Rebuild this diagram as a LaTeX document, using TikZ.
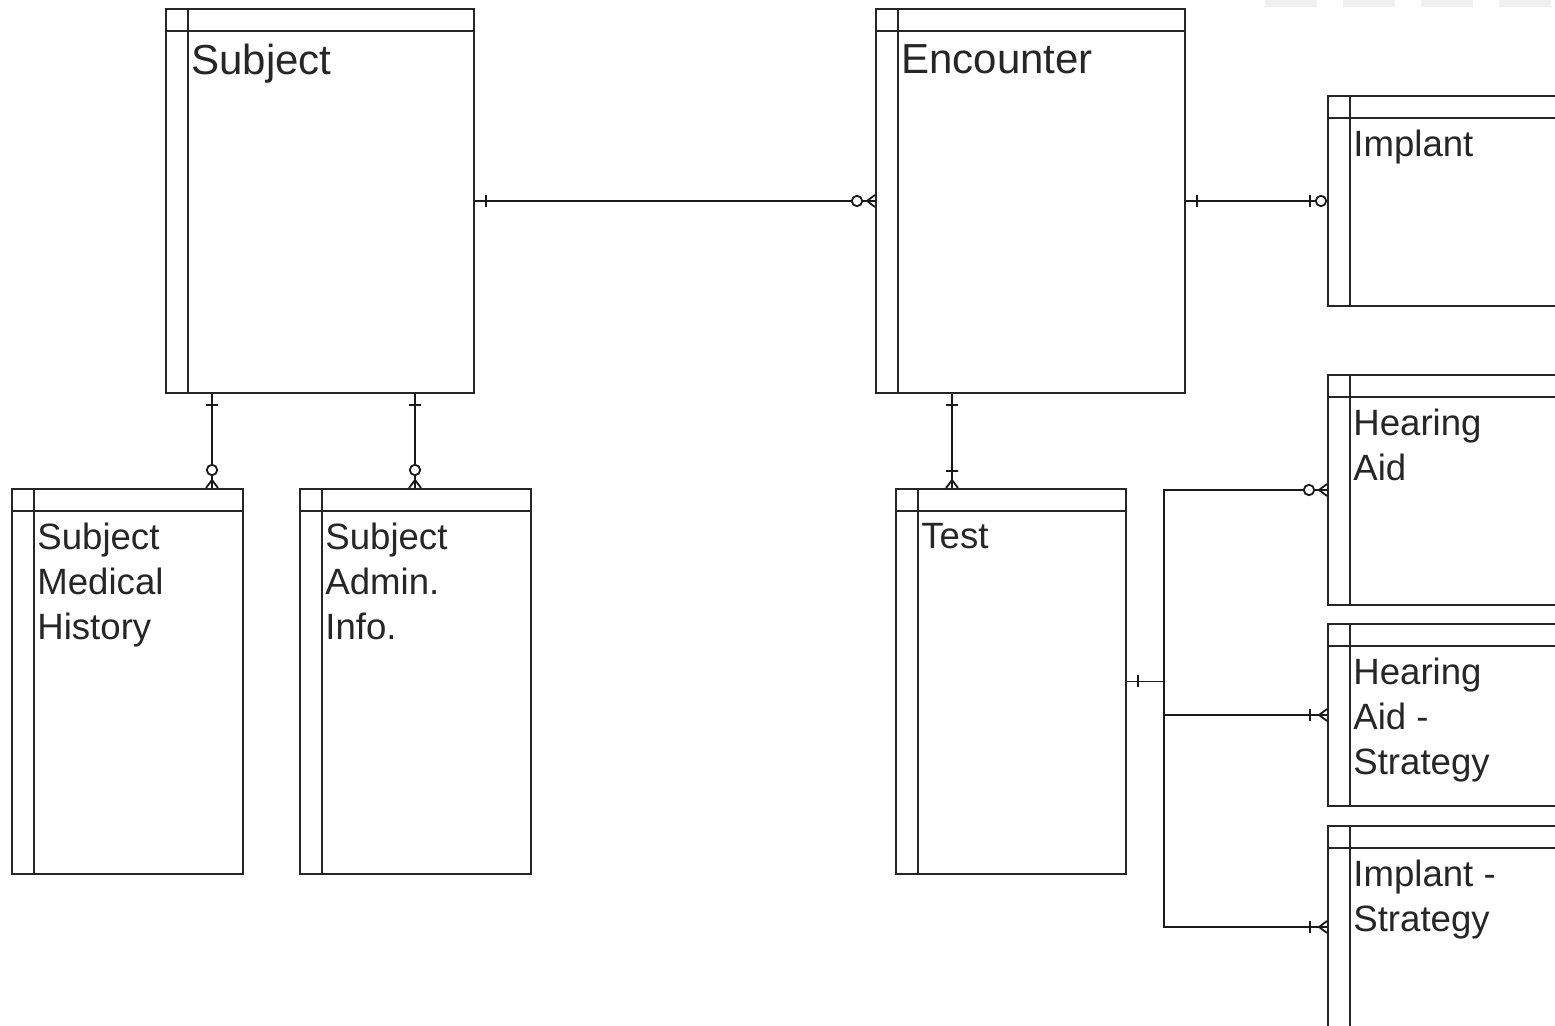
\documentclass[tikz,border=0pt]{standalone}
\usepackage{fontspec}
\setmainfont{Liberation Sans}
\usetikzlibrary{positioning,calc,decorations.markings}

\tikzset{
  entity/.style={draw=black!85, rectangle, anchor=north west, inner sep=0pt, line width=1pt,
    path picture={\draw[line width=1pt, black!85]
      ([yshift=-11pt]path picture bounding box.north west) -- ([yshift=-11pt]path picture bounding box.north east)
      ([xshift=11pt]path picture bounding box.north west) -- ([xshift=11pt]path picture bounding box.south west);}},
  title/.style={anchor=north west, inner sep=0pt, align=left, xshift=13pt, yshift=-17.5pt,
    text=black!85, font=\fontsize{18.3}{22.5}\selectfont},
  bigtitle/.style={anchor=north west, inner sep=0pt, align=left, xshift=13pt, yshift=-18pt,
    text=black!85, font=\fontsize{21}{25}\selectfont},
  rel/.style={line width=0.9pt, draw=black!90},
  one/.style={postaction={decorate, decoration={markings,
    mark=at position 0 with {\draw[line width=0.9pt] (11,-6) -- (11,6);}}}},
  zeromany/.style={postaction={decorate, decoration={markings,
    mark=at position 1 with {\draw[line width=0.9pt] (-8,0) -- (0,6) (-8,0) -- (0,-6);
      \draw[line width=0.9pt, fill=white] (-18,0) circle[radius=2.6pt];}}}},
  onemany/.style={postaction={decorate, decoration={markings,
    mark=at position 1 with {\draw[line width=0.9pt] (-8,0) -- (0,6) (-8,0) -- (0,-6) (-17,-6) -- (-17,6);}}}},
  zeroone/.style={postaction={decorate, decoration={markings,
    mark=at position 1 with {\draw[line width=0.9pt] (-17,-6) -- (-17,6);
      \draw[line width=0.9pt, fill=white] (-6,0) circle[radius=2.6pt];}}}}
}

\begin{document}
\begin{tikzpicture}[x=0.5pt,y=-0.5pt]
  \useasboundingbox (0,0) rectangle (1555,1026);
  \clip (0,0) rectangle (1555,1026);
  \foreach \x in {1265,1343,1421,1499}
    \fill[black!6] (\x,0) rectangle ++(52,7);

  % entities
  \node[entity, minimum width=154pt, minimum height=192pt, label={[bigtitle]north west:Subject}] (Subject) at (165,8) {};
  \node[entity, minimum width=154.5pt, minimum height=192pt, label={[bigtitle]north west:Encounter}] (Encounter) at (875,8) {};
  \node[entity, minimum width=120pt, minimum height=105pt, label={[title]north west:Implant}] (Implant) at (1327,95) {};
  \node[entity, minimum width=120pt, minimum height=115pt, label={[title]north west:Hearing\\Aid}] (HA) at (1327,374) {};
  \node[entity, minimum width=120pt, minimum height=91pt, label={[title]north west:Hearing\\Aid -\\Strategy}] (HAS) at (1327,623) {};
  \node[entity, minimum width=120pt, minimum height=101pt, label={[title]north west:Implant -\\Strategy}] (IS) at (1327,825) {};
  \node[entity, minimum width=115.5pt, minimum height=192.5pt, label={[title]north west:Subject\\Medical\\History}] (SMH) at (11,488) {};
  \node[entity, minimum width=115.5pt, minimum height=192.5pt, label={[title]north west:Subject\\Admin.\\Info.}] (SAI) at (299,488) {};
  \node[entity, minimum width=115pt, minimum height=192.5pt, label={[title]north west:Test}] (Test) at (895,488) {};

  % relationships
  \draw[rel, one, zeromany] (Subject) -- (Encounter);
  \draw[rel, one, zeroone] (Encounter) -- (Implant);
  \draw[rel, one, zeromany] ($(Subject.south west)+(47,0)$) -- ($(SMH.north west)+(201,0)$);
  \draw[rel, one, zeromany] ($(Subject.south west)+(250,0)$) -- ($(SAI.north west)+(116,0)$);
  \draw[rel, one, onemany] ($(Encounter.south west)+(77,0)$) -- ($(Test.north west)+(57,0)$);
  \draw[rel, one, zeromany] (Test.east) -- ++(37,0) |- (HA.west);
  \draw[rel, one, onemany] (Test.east) -- ++(37,0) |- (HAS.west);
  \draw[rel, one, onemany] (Test.east) -- ++(37,0) |- (IS.west);
\end{tikzpicture}
\end{document}
